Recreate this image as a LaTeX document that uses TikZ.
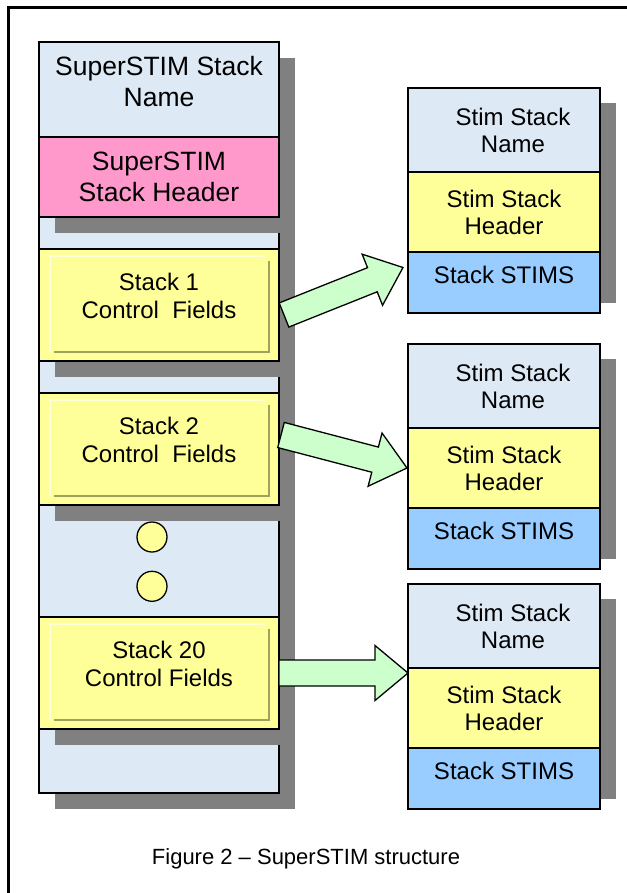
\documentclass[tikz,border=0pt]{standalone}
\usepackage{fontspec}
\setmainfont{Liberation Sans}
\usepackage{xcolor}
\usepackage{tikz}
\usetikzlibrary{shapes,arrows,positioning,calc,shadows,arrows.meta}

\definecolor{skyback}{RGB}{222,233,246}
\definecolor{rosehead}{RGB}{255,153,204}
\definecolor{paleyellow}{RGB}{255,255,153}
\definecolor{stimblue}{RGB}{153,204,255}
\definecolor{mintarrow}{RGB}{204,255,204}
\definecolor{shadegray}{RGB}{128,128,128}
\definecolor{bevdark}{RGB}{160,160,96}
\definecolor{bevlight}{RGB}{255,255,215}

\newcommand{\colfont}{\fontsize{26.5}{31}\selectfont}
\newcommand{\boxfont}{\fontsize{24}{28}\selectfont}
\newcommand{\stimfont}{\fontsize{24}{27}\selectfont}
\newcommand{\figcapfont}{\fontsize{22}{26}\selectfont}

% block arrow from tail #1 to tip #2
\newcommand{\fatarrow}[2]{%
  \coordinate (neck) at ($(#2)!33pt!(#1)$);
  \draw[fatarrow] ($(#1)!13pt!-90:(#2)$) -- ($(neck)!13pt!90:(#1)$)
    -- ($(neck)!27.5pt!90:(#1)$) -- (#2) -- ($(neck)!27.5pt!-90:(#1)$)
    -- ($(neck)!13pt!-90:(#1)$) -- ($(#1)!13pt!90:(#2)$) -- cycle;}

\tikzset{
  colbox/.style={draw, line width=1.3pt, rectangle, outer sep=0pt, inner sep=0pt,
    minimum width=240pt, align=center, fill=skyback},
  castshadow/.style={drop shadow={shadow xshift=16pt, shadow yshift=-16pt,
    fill=shadegray, opacity=1}},
  headbox/.style={colbox, fill=rosehead, minimum height=80pt, font=\colfont},
  ctrlbox/.style={colbox, fill=paleyellow, minimum height=112pt, text depth=18pt,
    font=\boxfont,
    path picture={
      \draw[bevlight, line width=1.5pt]
        ([shift={(11pt,9pt)}]path picture bounding box.south west)
        |- ([shift={(-14pt,-7pt)}]path picture bounding box.north east);
      \draw[bevdark, line width=2.5pt]
        ([shift={(15pt,9pt)}]path picture bounding box.south west)
        -| ([shift={(-10pt,-12pt)}]path picture bounding box.north east);
    }},
  stimname/.style={colbox, minimum width=192pt, minimum height=84pt, font=\stimfont},
  stimhead/.style={colbox, fill=paleyellow, minimum width=192pt, minimum height=80pt,
    font=\stimfont},
  stimlist/.style={colbox, fill=stimblue, minimum width=192pt, minimum height=61pt,
    text depth=15pt, font=\stimfont},
  dotmark/.style={circle, draw, line width=1.3pt, fill=paleyellow, minimum size=30pt,
    inner sep=0pt},
  fatarrow/.style={draw, line width=1.3pt, fill=mintarrow, line join=miter}
}

\begin{document}
\begin{tikzpicture}[x=1pt, y=-1pt]
    \useasboundingbox (0,0) rectangle (626,893);
    % Frame
    \draw[line width=3pt] (8,8) rectangle (660,930);

    % SuperSTIM stack
    \node[colbox, castshadow, anchor=north west, minimum height=751pt] (superstim) at (39,42) {};
    \node[colbox, anchor=north west, minimum height=95pt, text depth=16pt, font=\colfont]
        (supername) at (39,42) {SuperSTIM Stack\\Name};
    \node[headbox, castshadow, below=0pt of supername] (superhead) {SuperSTIM\\Stack Header};
    \node[ctrlbox, castshadow, below=32pt of superhead] (ctrl1) {Stack 1\\Control\ \ Fields};
    \node[ctrlbox, castshadow, below=32pt of ctrl1] (ctrl2) {Stack 2\\Control\ \ Fields};
    \node[dotmark] (dot1) at (152,537) {};
    \node[dotmark, below=18pt of dot1] (dot2) {};
    \node[ctrlbox, castshadow, below=112pt of ctrl2] (ctrl20) {Stack 20\\Control Fields};

    % Stim stacks
    \foreach \k/\top in {1/88, 2/344, 3/584} {
        \fill[shadegray] (600,{\top+15}) rectangle (616,{\top+215});
        \node[stimname, anchor=north west] (name\k) at (408,\top)
            {\hspace*{18pt}Stim Stack\\\hspace*{18pt}Name};
        \node[stimhead, below=0pt of name\k] (head\k) {Stim Stack\\Header};
        \node[stimlist, below=0pt of head\k] (stims\k) {Stack STIMS};
    }

    % Arrows
    \coordinate (tail1) at ([shift={(5pt,-10pt)}]ctrl1.east);
    \coordinate (tip1) at ([shift={(-5pt,15pt)}]stims1.west);
    \fatarrow{tail1}{tip1}
    \coordinate (tail2) at ([shift={(2pt,14pt)}]ctrl2.east);
    \coordinate (tip2) at ([xshift=-1pt]head2.west);
    \fatarrow{tail2}{tip2}
    \coordinate (tip3) at (ctrl20.east -| head3.west);
    \fatarrow{ctrl20.east}{tip3}

    % Caption
    \node[font=\figcapfont, anchor=base] (caption) at (306,864) {Figure 2 – SuperSTIM structure};
\end{tikzpicture}
\end{document}
